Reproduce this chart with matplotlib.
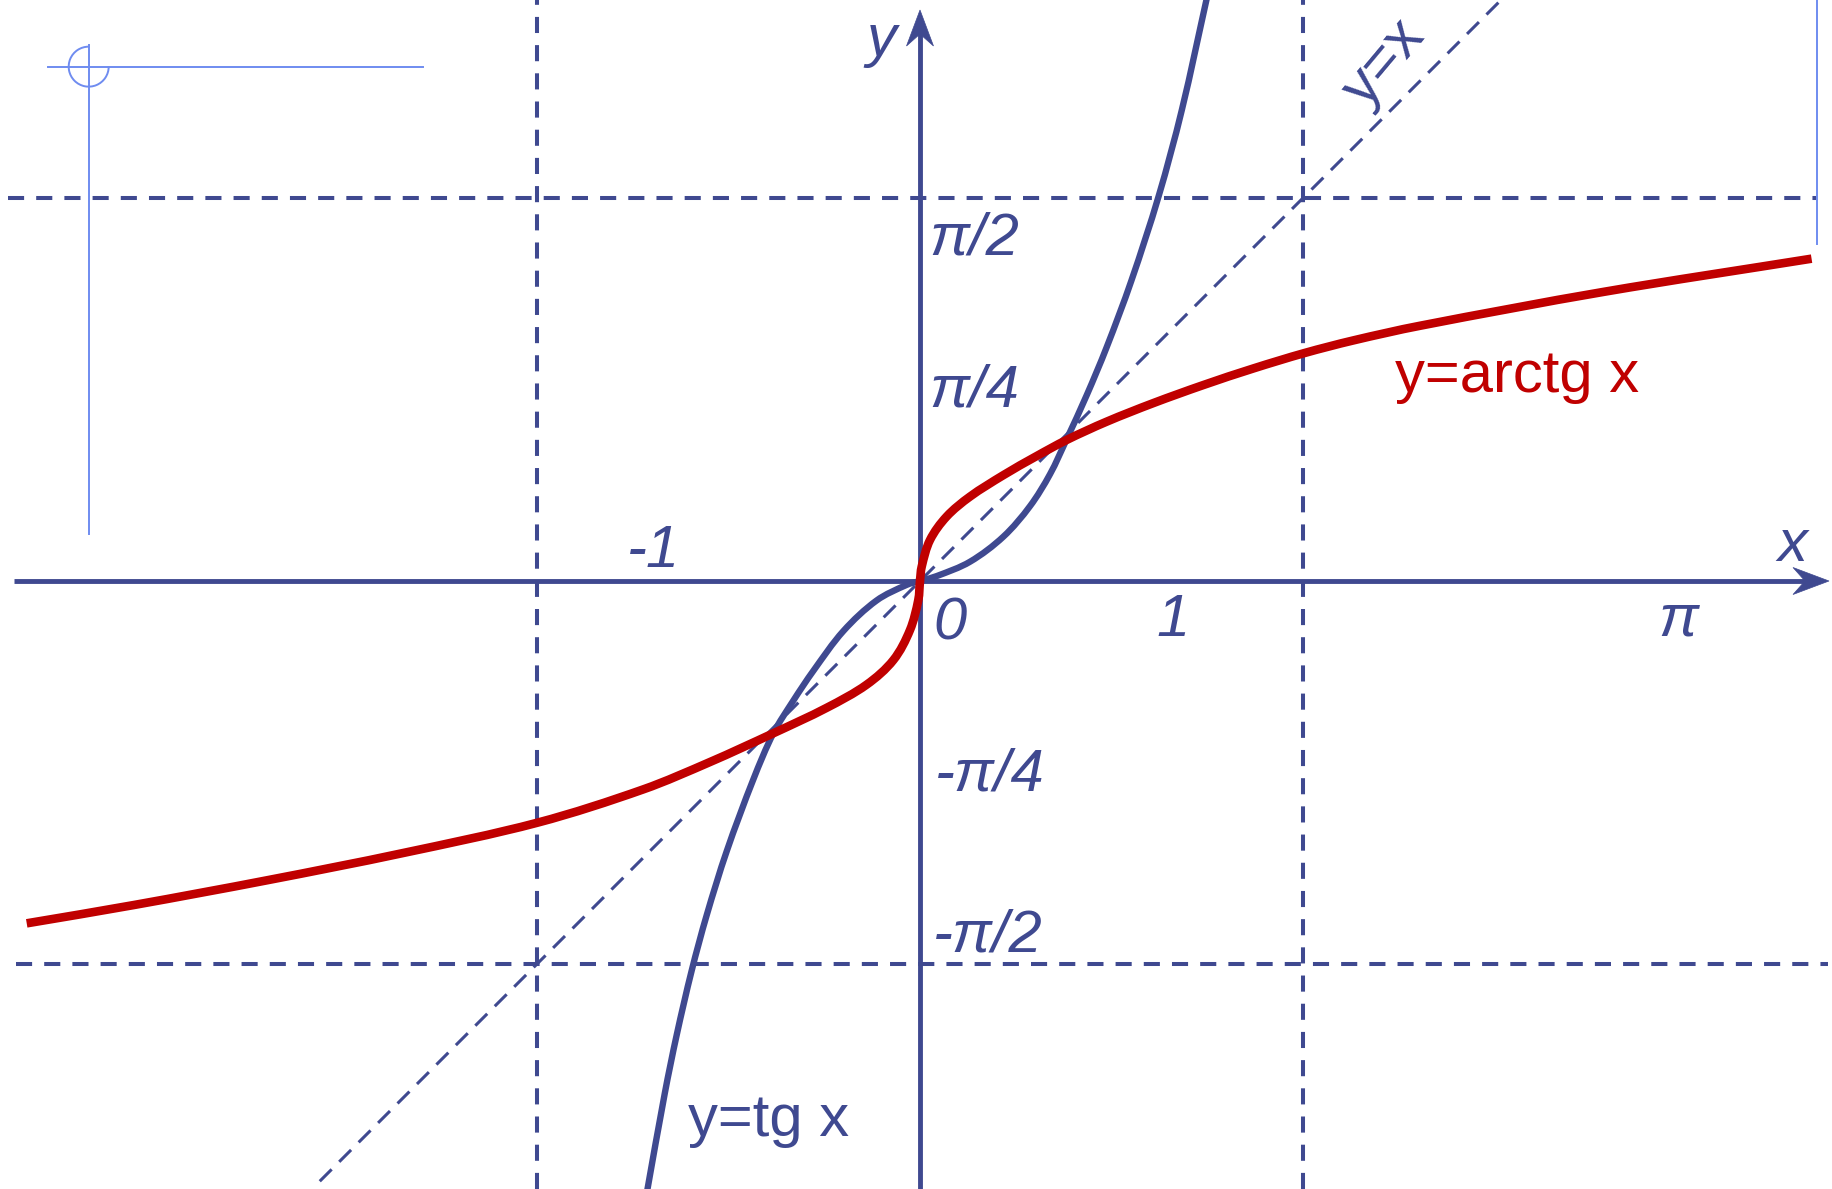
"""
Graphs of y=tg x and y=arctg x with the line y=x
"""
import numpy as np
import matplotlib
matplotlib.use('agg')
import matplotlib.pyplot as plt
from matplotlib.patches import Polygon, Arc, PathPatch
from matplotlib.path import Path

# Points (axis units, 1 unit = 244 px)
tg_x = [-1.12, -1.046, -0.997, -0.936, -0.874, -0.792, -0.683, -0.601, -0.519, -0.437,
        -0.314, -0.178, -0.055, 0.0, 0.068, 0.205, 0.342, 0.451, 0.533, 0.601,
        0.683, 0.765, 0.866, 0.978, 1.073, 1.178]
tg_y = [-2.51, -2.10, -1.86, -1.598, -1.369, -1.107, -0.813, -0.624, -0.490, -0.368,
        -0.205, -0.080, -0.016, 0.0, 0.020, 0.079, 0.182, 0.307, 0.438, 0.581,
        0.761, 0.958, 1.230, 1.577, 1.930, 2.400]

arctg_x = [-3.661, -3.222, -2.673, -2.124, -1.566, -1.134, -0.861, -0.601, -0.383, -0.219,
           -0.109, -0.041, -0.007, 0.0, 0.007, 0.041, 0.109, 0.205, 0.342, 0.478,
           0.601, 0.765, 0.956, 1.161, 1.366, 1.575, 1.776, 2.049, 2.802, 3.654]
arctg_y = [-1.403, -1.328, -1.226, -1.116, -0.990, -0.854, -0.742, -0.624, -0.520, -0.425,
           -0.324, -0.201, -0.078, 0.0, 0.059, 0.168, 0.264, 0.346, 0.434, 0.512,
           0.578, 0.653, 0.729, 0.803, 0.871, 0.934, 0.986, 1.046, 1.185, 1.321]

diag_x = [-2.46, 2.5]  # y = x

asymptotes = [-np.pi / 2, np.pi / 2]

ytick_labels = ['π/2', 'π/4', '-π/4', '-π/2']
xtick_labels = ['-1', '0', '1', 'π']

# label anchors (left/center, baseline)
ytick_pos = [(0.040, 1.340), (0.040, 0.717), (0.061, -0.859), (0.055, -1.519)]
xtick_pos = [(-1.094, 0.057), (0.123, -0.238), (1.037, -0.225), (3.109, -0.225)]

BLUE = '#3f4990'
RED = '#c00000'
DECO = '#6f8cf0'
PX = 1 / 244.0  # one pixel in axis units

XLIM = (-920 * PX, (1833 - 920) * PX)
YLIM = ((581 - 1189) * PX, 581 * PX)


def arrow_head(ax, tip, direction):
    """Notched arrow head, direction is a unit vector"""
    d = np.array(direction, dtype=float)
    n = np.array([-d[1], d[0]])
    tip = np.array(tip, dtype=float)
    back = tip - d * 36 * PX
    notch = tip - d * 24 * PX
    pts = [tip, back + n * 13.5 * PX, notch, back - n * 13.5 * PX]
    ax.add_patch(Polygon(pts, closed=True, facecolor=BLUE, edgecolor=BLUE,
                         lw=0.5, zorder=3))


def smooth_curve(ax, xs, ys, **kw):
    """Draw a smooth Bezier path through the read points (chord-length tangents)"""
    p = np.column_stack([xs, ys])
    n = len(p)
    tang = np.zeros_like(p)
    for i in range(n):
        a = p[max(i - 1, 0)]
        b = p[min(i + 1, n - 1)]
        d = b - a
        tang[i] = d / np.hypot(*d)
    verts = [p[0]]
    codes = [Path.MOVETO]
    for i in range(n - 1):
        L = np.hypot(*(p[i + 1] - p[i]))
        verts += [p[i] + tang[i] * L / 3, p[i + 1] - tang[i + 1] * L / 3, p[i + 1]]
        codes += [Path.CURVE4] * 3
    ax.add_patch(PathPatch(Path(verts, codes), fill=False, **kw))


fig = plt.figure(figsize=(18.33, 11.89), dpi=100)
ax = fig.add_axes([0, 0, 1, 1])
ax.set_xlim(*XLIM)
ax.set_ylim(*YLIM)
ax.set_axis_off()

dash = (0, (4, 3))

# asymptotes
for a in asymptotes:
    ax.plot([a, a], YLIM, color=BLUE, lw=2.9, linestyle=dash, zorder=1)
ax.plot([-3.738, 3.672], [np.pi / 2] * 2, color=BLUE, lw=2.9, linestyle=dash, zorder=1)
ax.plot([-3.705, 3.721], [-np.pi / 2] * 2, color=BLUE, lw=2.9, linestyle=dash, zorder=1)

# y = x
ax.plot(diag_x, diag_x, color=BLUE, lw=2.2, linestyle=(0, (5.5, 3.5)), zorder=1)

# axes with arrows
x_tip = (1829 - 920) * PX
y_tip = (581 - 10) * PX
ax.plot([-3.713, x_tip - 20 * PX], [0, 0], color=BLUE, lw=3.5, zorder=2,
        solid_capstyle='butt')
ax.plot([0, 0], [YLIM[0], y_tip - 20 * PX], color=BLUE, lw=3.5, zorder=2,
        solid_capstyle='butt')
arrow_head(ax, (x_tip, 0), (1, 0))
arrow_head(ax, (0, y_tip), (0, 1))

# curves
smooth_curve(ax, tg_x, tg_y, edgecolor=BLUE, lw=4.6, zorder=4,
             joinstyle='round', capstyle='butt')
smooth_curve(ax, arctg_x, arctg_y, edgecolor=RED, lw=6.2, zorder=5,
             joinstyle='round', capstyle='butt')

# leftover construction marks
ax.plot([-3.407, -3.407], [2.197, 0.193], color=DECO, lw=1.4, zorder=0)
ax.plot([-3.572, -2.038], [2.108, 2.108], color=DECO, lw=1.4, zorder=0)
ax.add_patch(Arc((-3.407, 2.108), 40 * PX, 40 * PX, theta1=90, theta2=360,
                 color=DECO, lw=1.4, zorder=0))
ax.plot([3.675, 3.675], [YLIM[1], 1.381], color=DECO, lw=1.4, zorder=0)

font = ['Liberation Sans', 'DejaVu Sans']
fs = 43

for lab, (x, y) in zip(ytick_labels, ytick_pos):
    ax.text(x, y, lab, color=BLUE, fontsize=fs, style='italic', family=font,
            ha='left', va='baseline')
for lab, (x, y) in zip(xtick_labels, xtick_pos):
    ax.text(x, y, lab, color=BLUE, fontsize=fs, style='italic', family=font,
            ha='center', va='baseline')

ax.text(-0.160, 2.152, 'y', color=BLUE, fontsize=fs, style='italic', family=font,
        ha='center', va='baseline')
ax.text(3.574, 0.082, 'x', color=BLUE, fontsize=fs, style='italic', family=font,
        ha='center', va='baseline')

ax.text(1.902, 2.123, 'y=x', color=BLUE, fontsize=fs, family=font, rotation=50,
        ha='center', va='center', rotation_mode='anchor')
ax.text(1.945, 0.775, 'y=arctg x', color=RED, fontsize=fs, family=font,
        ha='left', va='baseline')
ax.text(-0.951, -2.275, 'y=tg x', color=BLUE, fontsize=fs, family=font,
        ha='left', va='baseline')

fig.savefig('out.png', dpi=100, facecolor='white')
